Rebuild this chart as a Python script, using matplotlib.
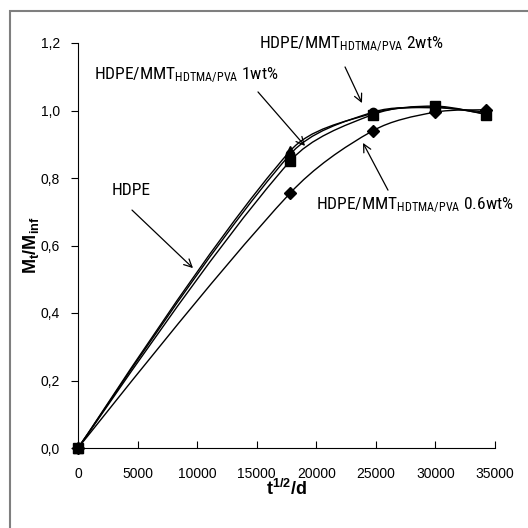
import matplotlib
matplotlib.use("Agg")
import matplotlib.pyplot as plt
from matplotlib.path import Path
from matplotlib.patches import PathPatch, Rectangle
from matplotlib import font_manager as fm
import numpy as np

# ---- data ----
x_vals = [0, 17800, 24750, 29950, 34250]
hdpe = [0.0, 0.880, 0.992, 1.010, 0.990]
wt2 = [0.0, 0.870, 0.995, 1.008, 0.995]
wt1 = [0.0, 0.850, 0.988, 1.013, 0.988]
wt06 = [0.0, 0.755, 0.940, 0.995, 1.002]

x_ticks = [0, 5000, 10000, 15000, 20000, 25000, 30000, 35000]
y_ticks = [0.0, 0.2, 0.4, 0.6, 0.8, 1.0, 1.2]
y_tick_labels = ["0,0", "0,2", "0,4", "0,6", "0,8", "1,0", "1,2"]

# choose a narrow font if one exists
names = set(f.name for f in fm.fontManager.ttflist)
ann_family = None
ann_stretch = 'normal'
ann_size = 12.5
for cand in ['Liberation Sans Narrow', 'Roboto Condensed', 'Open Sans Condensed', 'Arial Narrow']:
    if cand in names:
        ann_family = cand
        break
if ann_family is None:
    dv_cond = [f for f in fm.fontManager.ttflist if f.name == 'DejaVu Sans' and 'ondensed' in f.fname
               and 'Bold' not in f.fname and 'Oblique' not in f.fname]
    if dv_cond:
        ann_family = 'DejaVu Sans'
        ann_stretch = 'condensed'
        ann_size = 11.5
    else:
        ann_family = 'Liberation Sans'
        ann_size = 11.2

plt.rcParams['font.family'] = ['Liberation Sans', 'DejaVu Sans']
plt.rcParams['mathtext.default'] = 'regular'

fig = plt.figure(figsize=(5.28, 5.28), dpi=100)
ax = fig.add_axes([78/528, 1-448/528, (495-78)/528, (448-43)/528])

# figure border
fig.patches.append(Rectangle((10/528, -0.1), 1.2, 1 - 11/528 + 0.1, transform=fig.transFigure,
                             fill=False, edgecolor='#7f7f7f', linewidth=1.5, zorder=0))

XMAX, YMAX = 35000.0, 1.2
W_PX, H_PX = 417.0, 405.0


def smooth_path(xs, ys, tension=1/3):
    pts = np.column_stack([xs, ys]).astype(float)
    sc = np.array([W_PX / XMAX, H_PX / YMAX])
    n = len(pts)
    tang = []
    for i in range(n):
        p_prev = pts[i - 1] if i > 0 else pts[i]
        p_next = pts[i + 1] if i + 1 < n else pts[i]
        tang.append(p_next - p_prev)
    d = [np.linalg.norm((pts[i + 1] - pts[i]) * sc) for i in range(n - 1)]
    verts = [pts[0]]
    codes = [Path.MOVETO]
    for i in range(n - 1):
        dl = d[i - 1] if i > 0 else d[i]
        dr = d[i + 1] if i + 1 < n - 1 else d[i]
        f1 = tension * d[i] / (dl + d[i]) if i > 0 else tension * 0.5
        f2 = tension * d[i] / (d[i] + dr) if i + 1 < n - 1 else tension * 0.5
        c1 = pts[i] + tang[i] * f1 * (0.5 if i == 0 else 1)
        c2 = pts[i + 1] - tang[i + 1] * f2 * (0.5 if i + 1 == n - 1 else 1)
        verts += [c1, c2, pts[i + 1]]
        codes += [Path.CURVE4] * 3
    return Path(verts, codes)


series = [(wt06, 'D', 6), (wt1, 's', 7), (wt2, 'o', 6), (hdpe, '^', 7)]
for ys, mk, ms in series:
    ax.add_patch(PathPatch(smooth_path(x_vals, ys), fill=False, edgecolor='black', linewidth=1.0))
    ax.plot(x_vals, ys, linestyle='none', marker=mk, color='black', markersize=ms, clip_on=False)

ax.set_xlim(0, XMAX)
ax.set_ylim(0, YMAX)
ax.set_xticks(x_ticks)
ax.set_xticklabels([str(v) for v in x_ticks])
ax.set_yticks(y_ticks)
ax.set_yticklabels(y_tick_labels)
ax.spines['top'].set_visible(False)
ax.spines['right'].set_visible(False)
ax.tick_params(axis='x', direction='in', length=5, labelsize=10, pad=14)
ax.tick_params(axis='y', direction='out', length=5, labelsize=10, pad=8)
ax.set_xlabel(r'$t^{1/2}/d$', fontsize=13, fontweight='bold', labelpad=-2)
ax.set_ylabel(r'$M_t/M_{inf}$', fontsize=13, fontweight='bold', labelpad=0)

arrow_kw = dict(arrowstyle='->', color='black', lw=0.9, mutation_scale=14, shrinkA=0, shrinkB=0)
arrows = [((22413, 1.129), (23836, 1.022)),
          ((15107, 1.055), (19052, 0.895)),
          ((4532, 0.705), (9652, 0.533)),
          ((26018, 0.764), (23920, 0.904))]
for tail, head in arrows:
    ax.annotate('', xy=head, xytext=tail, arrowprops=arrow_kw)

txt_kw = dict(fontsize=ann_size, family=[ann_family, 'DejaVu Sans'], stretch=ann_stretch,
              ha='center', va='center')
ax.text(22913, 1.197, r'HDPE/MMT$_{HDTMA/PVA}$ 2wt%', **txt_kw)
ax.text(9064, 1.105, r'HDPE/MMT$_{HDTMA/PVA}$ 1wt%', **txt_kw)
ax.text(4448, 0.764, 'HDPE', **txt_kw)
ax.text(28284, 0.72, r'HDPE/MMT$_{HDTMA/PVA}$ 0.6wt%', **txt_kw)

fig.savefig('out.png', dpi=100)
